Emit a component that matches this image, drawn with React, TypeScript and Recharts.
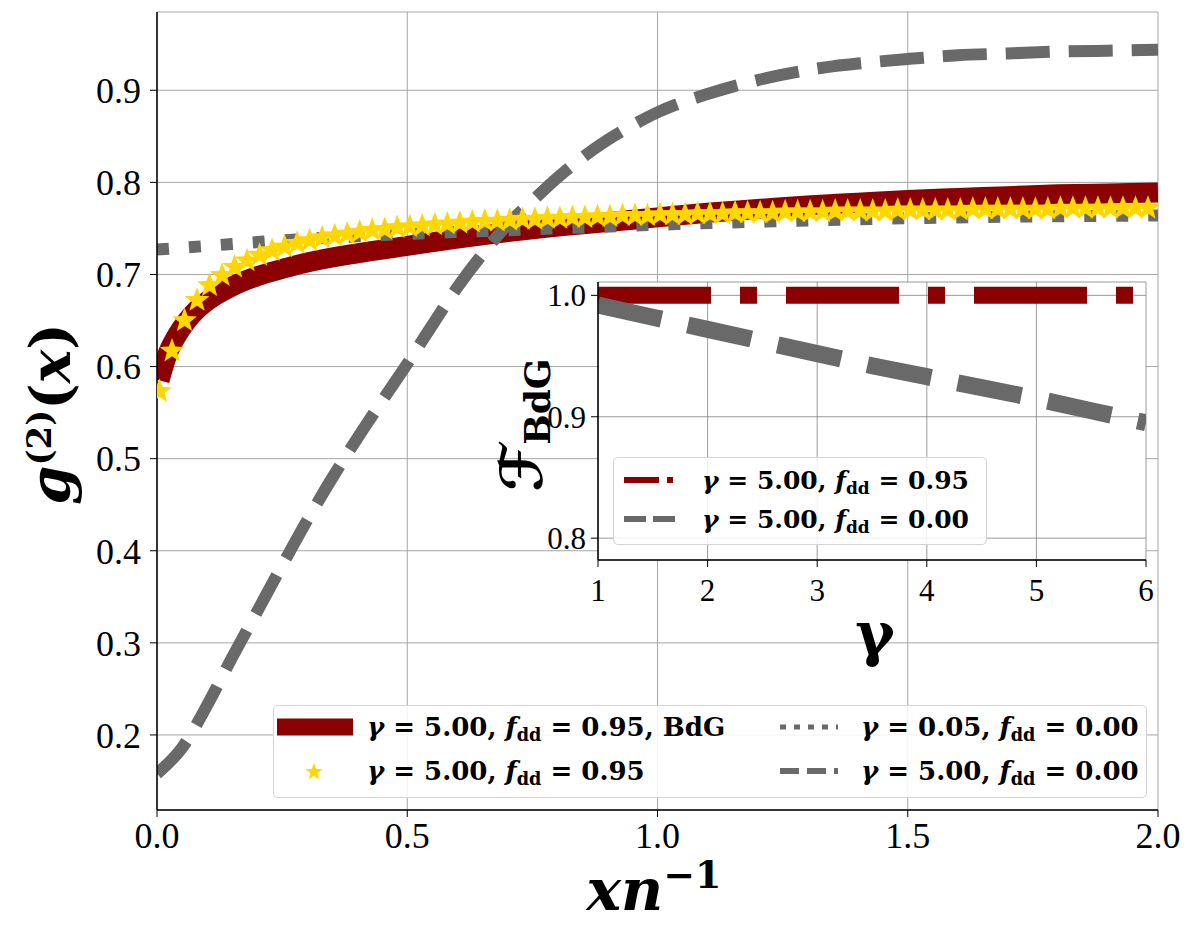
import { ComposedChart, Line, Scatter, XAxis, YAxis, CartesianGrid, Legend } from 'recharts';

// main panel: g2(x) against x n^-1
const bdgX = [0.005, 0.02, 0.04, 0.06, 0.08, 0.1, 0.15, 0.2, 0.25, 0.3, 0.4, 0.5, 0.6, 0.7, 0.8, 0.9, 1.0, 1.1, 1.2, 1.3, 1.4, 1.5, 1.6, 1.7, 1.8, 1.9, 2.0];
const bdgY = [0.585, 0.612, 0.634, 0.65, 0.662, 0.671, 0.687, 0.698, 0.706, 0.713, 0.723, 0.731, 0.739, 0.746, 0.752, 0.757, 0.762, 0.767, 0.771, 0.775, 0.778, 0.781, 0.783, 0.785, 0.787, 0.788, 0.789];

const starX = [
  0.005, 0.03, 0.055, 0.08, 0.105, 0.13, 0.155, 0.18, 0.205, 0.23, 0.255, 0.28, 0.305, 0.33, 0.355, 0.38, 0.405, 0.43, 0.455, 0.48,
  0.505, 0.53, 0.555, 0.58, 0.605, 0.63, 0.655, 0.68, 0.705, 0.73, 0.755, 0.78, 0.805, 0.83, 0.855, 0.88, 0.905, 0.93, 0.955, 0.98,
  1.005, 1.03, 1.055, 1.08, 1.105, 1.13, 1.155, 1.18, 1.205, 1.23, 1.255, 1.28, 1.305, 1.33, 1.355, 1.38, 1.405, 1.43, 1.455, 1.48,
  1.505, 1.53, 1.555, 1.58, 1.605, 1.63, 1.655, 1.68, 1.705, 1.73, 1.755, 1.78, 1.805, 1.83, 1.855, 1.88, 1.905, 1.93, 1.955, 1.98,
];
const starY = [
  0.573, 0.617, 0.65, 0.672, 0.688, 0.699, 0.708, 0.715, 0.721, 0.726, 0.73, 0.734, 0.737, 0.74, 0.742, 0.744, 0.746, 0.748, 0.749, 0.751,
  0.752, 0.753, 0.754, 0.755, 0.756, 0.757, 0.758, 0.758, 0.759, 0.76, 0.76, 0.761, 0.761, 0.762, 0.762, 0.763, 0.763, 0.764, 0.764, 0.764,
  0.765, 0.765, 0.765, 0.766, 0.766, 0.766, 0.767, 0.767, 0.767, 0.767, 0.768, 0.768, 0.768, 0.768, 0.769, 0.769, 0.769, 0.769, 0.769, 0.77,
  0.77, 0.77, 0.77, 0.77, 0.77, 0.771, 0.771, 0.771, 0.771, 0.771, 0.771, 0.771, 0.772, 0.772, 0.772, 0.772, 0.772, 0.772, 0.772, 0.772,
];

const dotX = [0, 0.1, 0.25, 0.5, 0.75, 1.0, 1.25, 1.5, 1.75, 2.0];
const dotY = [0.727, 0.731, 0.737, 0.744, 0.749, 0.754, 0.758, 0.761, 0.763, 0.764];

const dashX = [0, 0.05, 0.1, 0.15, 0.2, 0.25, 0.3, 0.35, 0.4, 0.45, 0.5, 0.55, 0.6, 0.65, 0.7, 0.75, 0.8, 0.85, 0.9, 0.95, 1.0, 1.05, 1.1, 1.15, 1.2, 1.25, 1.3, 1.35, 1.4, 1.5, 1.6, 1.7, 1.8, 1.9, 2.0];
const dashY = [0.158, 0.186, 0.232, 0.284, 0.334, 0.384, 0.433, 0.479, 0.522, 0.563, 0.603, 0.645, 0.686, 0.722, 0.754, 0.78, 0.805, 0.827, 0.846, 0.862, 0.876, 0.887, 0.896, 0.904, 0.911, 0.917, 0.922, 0.926, 0.929, 0.934, 0.938, 0.94, 0.942, 0.943, 0.944];

const xTicks = [0, 0.5, 1.0, 1.5, 2.0];
const yTicks = [0.2, 0.3, 0.4, 0.5, 0.6, 0.7, 0.8, 0.9];

// inset: fidelity against gamma
const gammaX = [1, 1.5, 2, 2.5, 3, 3.5, 4, 4.5, 5, 5.5, 6];
const fidDipolar = [1.0, 1.0, 1.0, 1.0, 1.0, 1.0, 1.0, 1.0, 1.0, 1.0, 1.0];
const fidContact = [0.992, 0.982, 0.972, 0.962, 0.952, 0.942, 0.933, 0.924, 0.915, 0.905, 0.895];
const insetXTicks = [1, 2, 3, 4, 5, 6];
const insetYTicks = [0.8, 0.9, 1.0];

const pts = (xs: number[], ys: number[]) => xs.map((x, i) => ({ x, y: ys[i] }));

const RED = '#8b0000';
const GOLD = '#ffd700';
const GREY = '#696969';
const TICK_FONT = 'Liberation Serif';
const MATH_FONT = 'DejaVu Serif';

const StarMark = (props: any) => {
  const { cx, cy } = props;
  if (cx == null || cy == null) return null;
  const r0 = props.outer ?? 13;
  const p: string[] = [];
  for (let i = 0; i < 10; i++) {
    const r = i % 2 === 0 ? r0 : r0 * 0.42;
    const a = -Math.PI / 2 + (i * Math.PI) / 5;
    p.push(`${cx + r * Math.cos(a)},${cy + r * Math.sin(a)}`);
  }
  return <polygon points={p.join(' ')} fill={GOLD} />;
};

const Eq = ({ g, f, tail }: { g: string; f: string; tail?: string }) => (
  <span style={{ whiteSpace: 'pre' }}>
    <i>γ</i> = {g}, <i>f</i>
    <span style={{ fontSize: '0.68em', position: 'relative', top: '0.28em' }}>dd</span> = {f}
    {tail ? `, ${tail}` : ''}
  </span>
);

const legendBox: React.CSSProperties = {
  position: 'relative',
  background: 'rgba(255,255,255,0.85)',
  border: '1px solid #d4d4d4',
  borderRadius: 5,
  boxSizing: 'border-box',
  fontFamily: MATH_FONT,
  fontWeight: 'bold',
  color: '#000',
};

const row = (top: number, left: number): React.CSSProperties => ({
  position: 'absolute',
  top,
  left,
  transform: 'translateY(-50%)',
  lineHeight: 1,
});

const MainLegend = () => (
  <div style={{ ...legendBox, width: 874, height: 93, fontSize: 26 }}>
    <div style={{ ...row(21, 3), width: 76, height: 17, background: RED }} />
    <div style={row(21, 93)}><Eq g="5.00" f="0.95" tail="BdG" /></div>
    <svg style={row(65, 30)} width={20} height={20}>
      <StarMark cx={10} cy={11} outer={9} />
    </svg>
    <div style={row(65, 93)}><Eq g="5.00" f="0.95" /></div>
    <svg style={row(21, 506)} width={58} height={8}>
      <line x1={0} y1={4} x2={58} y2={4} stroke={GREY} strokeWidth={5} strokeDasharray="6 8" />
    </svg>
    <div style={row(21, 587)}><Eq g="0.05" f="0.00" /></div>
    <svg style={row(65, 506)} width={58} height={8}>
      <line x1={0} y1={4} x2={58} y2={4} stroke={GREY} strokeWidth={6} strokeDasharray="19 8" />
    </svg>
    <div style={row(65, 587)}><Eq g="5.00" f="0.00" /></div>
  </div>
);

const InsetLegend = () => (
  <div style={{ ...legendBox, width: 374, height: 88, fontSize: 25 }}>
    <svg style={row(22, 10)} width={57} height={8}>
      <line x1={0} y1={4} x2={57} y2={4} stroke={RED} strokeWidth={6} strokeDasharray="35 8 6 8" />
    </svg>
    <div style={row(22, 88)}><Eq g="5.00" f="0.95" /></div>
    <svg style={row(61, 10)} width={57} height={8}>
      <line x1={0} y1={4} x2={57} y2={4} stroke={GREY} strokeWidth={6} strokeDasharray="22 7" />
    </svg>
    <div style={row(61, 88)}><Eq g="5.00" f="0.00" /></div>
  </div>
);

const frame = { stroke: '#000', strokeWidth: 1.5 };

function Inset() {
  return (
    <ComposedChart width={638} height={333} margin={{ top: 5, right: 10, bottom: 0, left: 0 }}>
      <CartesianGrid stroke="#808080" strokeWidth={0.8} fill="#fff" fillOpacity={1} />
      <XAxis
        dataKey="x"
        type="number"
        domain={[1, 6]}
        ticks={insetXTicks}
        allowDataOverflow
        height={50}
        axisLine={frame}
        tickLine={{ stroke: '#000' }}
        tickSize={7}
        tickMargin={12}
        tick={{ fontSize: 31, fill: '#000', fontFamily: TICK_FONT }}
      />
      <XAxis xAxisId="top" orientation="top" type="number" domain={[1, 6]} height={0} tick={false} tickLine={false} axisLine={frame} />
      <YAxis
        dataKey="y"
        type="number"
        domain={[0.782, 1.011]}
        ticks={insetYTicks}
        allowDataOverflow
        width={80}
        axisLine={frame}
        tickLine={{ stroke: '#000' }}
        tickSize={7}
        tickMargin={5}
        tickFormatter={(v: number) => v.toFixed(1)}
        tick={{ fontSize: 31, fill: '#000', fontFamily: TICK_FONT }}
      />
      <YAxis yAxisId="right" orientation="right" type="number" domain={[0, 1]} width={0} tick={false} tickLine={false} axisLine={frame} />
      <Line data={pts(gammaX, fidDipolar)} dataKey="y" type="linear" stroke={RED} strokeWidth={17} strokeDasharray="113 29 17 29" dot={false} isAnimationActive={false} />
      <Line data={pts(gammaX, fidContact)} dataKey="y" type="linear" stroke={GREY} strokeWidth={17} strokeDasharray="65 27" dot={false} isAnimationActive={false} />
      <Legend
        layout="horizontal"
        verticalAlign="middle"
        align="center"
        wrapperStyle={{ left: 95, top: 180, width: 374, height: 88 }}
        content={() => <InsetLegend />}
      />
    </ComposedChart>
  );
}

export default function App() {
  return (
    <div style={{ position: 'absolute', left: 0, top: 0, width: 1196, height: 940, background: '#fff' }}>
      <ComposedChart width={1196} height={940} margin={{ top: 12, right: 38, bottom: 0, left: 0 }}>
        <CartesianGrid stroke="#a6a6a6" strokeWidth={1} />
        <XAxis
          dataKey="x"
          type="number"
          domain={[0, 2]}
          ticks={xTicks}
          allowDataOverflow
          height={130}
          axisLine={frame}
          tickLine={{ stroke: '#000' }}
          tickSize={7}
          tickMargin={5}
          tickFormatter={(v: number) => v.toFixed(1)}
          tick={{ fontSize: 36, fill: '#000', fontFamily: TICK_FONT }}
        />
        <XAxis xAxisId="top" orientation="top" type="number" domain={[0, 2]} height={0} tick={false} tickLine={false} axisLine={frame} />
        <YAxis
          dataKey="y"
          type="number"
          domain={[0.1185, 0.985]}
          ticks={yTicks}
          allowDataOverflow
          width={157}
          axisLine={frame}
          tickLine={{ stroke: '#000' }}
          tickSize={7}
          tickMargin={9}
          tickFormatter={(v: number) => v.toFixed(1)}
          tick={{ fontSize: 36, fill: '#000', fontFamily: TICK_FONT }}
        />
        <YAxis yAxisId="right" orientation="right" type="number" domain={[0, 1]} width={0} tick={false} tickLine={false} axisLine={frame} />
        <Line data={pts(bdgX, bdgY)} dataKey="y" type="monotone" stroke={RED} strokeWidth={20} dot={false} isAnimationActive={false} />
        <Scatter data={pts(starX, starY)} dataKey="y" shape={StarMark} isAnimationActive={false} />
        <Line data={pts(dotX, dotY)} dataKey="y" type="monotone" stroke={GREY} strokeWidth={12} strokeDasharray="12 20" dot={false} isAnimationActive={false} />
        <Line data={pts(dashX, dashY)} dataKey="y" type="monotone" stroke={GREY} strokeWidth={12} strokeDasharray="44 19" dot={false} isAnimationActive={false} />
        <Legend
          layout="horizontal"
          verticalAlign="middle"
          align="center"
          wrapperStyle={{ left: 273, top: 705, width: 874, height: 93 }}
          content={() => <MainLegend />}
        />
      </ComposedChart>

      <div style={{ position: 'absolute', left: 518, top: 277 }}>
        <Inset />
      </div>

      <svg width={1196} height={940} style={{ position: 'absolute', left: 0, top: 0, pointerEvents: 'none' }}>
        <text transform="translate(70,414) rotate(-90)" textAnchor="middle" fontFamily={MATH_FONT} fontWeight="bold" fontSize={56}>
          <tspan fontStyle="italic">g</tspan>
          <tspan fontSize={34} dy={-19}>(2)</tspan>
          <tspan dy={19}>(</tspan>
          <tspan fontStyle="italic">x</tspan>
          <tspan>)</tspan>
        </text>
        <text x={654} y={910} textAnchor="middle" fontFamily={MATH_FONT} fontWeight="bold" fontSize={58}>
          <tspan fontStyle="italic">xn</tspan>
          <tspan fontSize={38} dy={-22}>−1</tspan>
        </text>
        <text transform="translate(542,425) rotate(-90)" textAnchor="middle" fontFamily="DejaVu Sans" fontWeight="bold" fontSize={58}>
          <tspan>ℱ</tspan>
          <tspan fontFamily={MATH_FONT} fontSize={36} dy={8}>BdG</tspan>
        </text>
        <text x={875} y={655} textAnchor="middle" fontFamily={MATH_FONT} fontWeight="bold" fontSize={60}>
          γ
        </text>
      </svg>
    </div>
  );
}
